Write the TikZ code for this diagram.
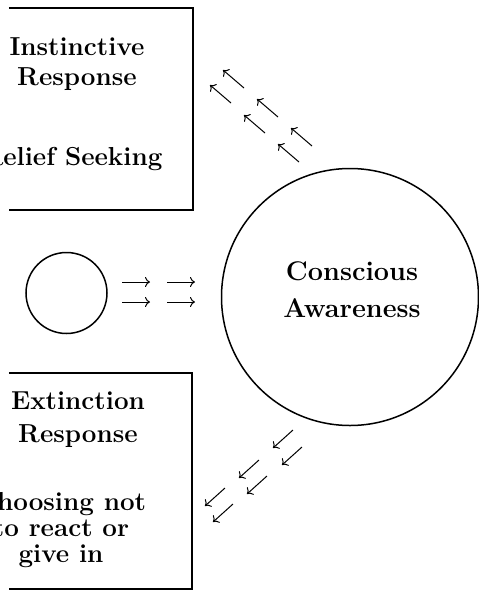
\documentclass[tikz,border=0pt]{standalone}
\usepackage{fontspec}
\usepackage{tikz}
\usetikzlibrary{arrows.meta}

\begin{document}
\begin{tikzpicture}[x=1pt, y=-1pt, >={To[length=5pt, width=10pt]},
        font=\bfseries\fontsize{26}{30}\selectfont,
        frame/.style={inner sep=0pt, minimum width=184pt, minimum height=202pt},
        edge/.style={line width=2pt},
        ring/.style={draw, circle, line width=1.5pt, inner sep=0pt},
        lbl/.style={align=center, inner sep=0pt},
        flow/.style={->, line width=1pt}]
    \useasboundingbox (0, 0) rectangle (479, 590);
    \clip (0, 0) rectangle (479, 590);

    \node[frame] (instinct) at (101, 109) {};
    \node[frame, minimum width=183pt, minimum height=215.5pt] (extinct) at (100.5, 480.75) {};
    \draw[edge] (instinct.north west) -| (instinct.south east) -- (instinct.south west);
    \draw[edge] (extinct.north west) -| (extinct.south east) -- (extinct.south west);

    \node[lbl] (instinct title) at (77, 64.5) {Instinctive\\Response};
    \node[lbl] (relief) at (72, 159.5) {Relief Seeking};
    \node[lbl] (extinct title) at (78, 419.5) {Extinction\\[3pt]Response};
    \node[lbl] (choosing) at (61, 530) {Choosing not\\[-4pt]to react or\\[-4pt]give in};

    \node[ring, minimum size=81pt] (spark) at (66.5, 293) {};
    \node[ring, minimum size=257pt] (aware) at (350, 297) {};
    \node[lbl, font=\bfseries\fontsize{27}{30}\selectfont] (aware title) at (352, 289.5) {Conscious\\[6.7pt]Awareness};

    \foreach \n/\x/\y in {1/122/282, 2/122/302, 3/167/282, 4/167/302}
        \draw[flow] (\x, \y) coordinate (in\n) -- ++(28, 0) coordinate (in\n tip);
    \foreach \n/\x/\y in {1/244/88, 2/231/103, 3/278/117, 4/265/133, 5/312/146, 6/299/162}
        \draw[flow] (\x, \y) coordinate (up\n) -- ++(-21, -18) coordinate (up\n tip);
    \foreach \n/\x/\y in {1/293/430, 2/302/447, 3/259/460, 4/267/476, 5/225/488, 6/233/504}
        \draw[flow] (\x, \y) coordinate (down\n) -- ++(-20, 18) coordinate (down\n tip);
\end{tikzpicture}
\end{document}
